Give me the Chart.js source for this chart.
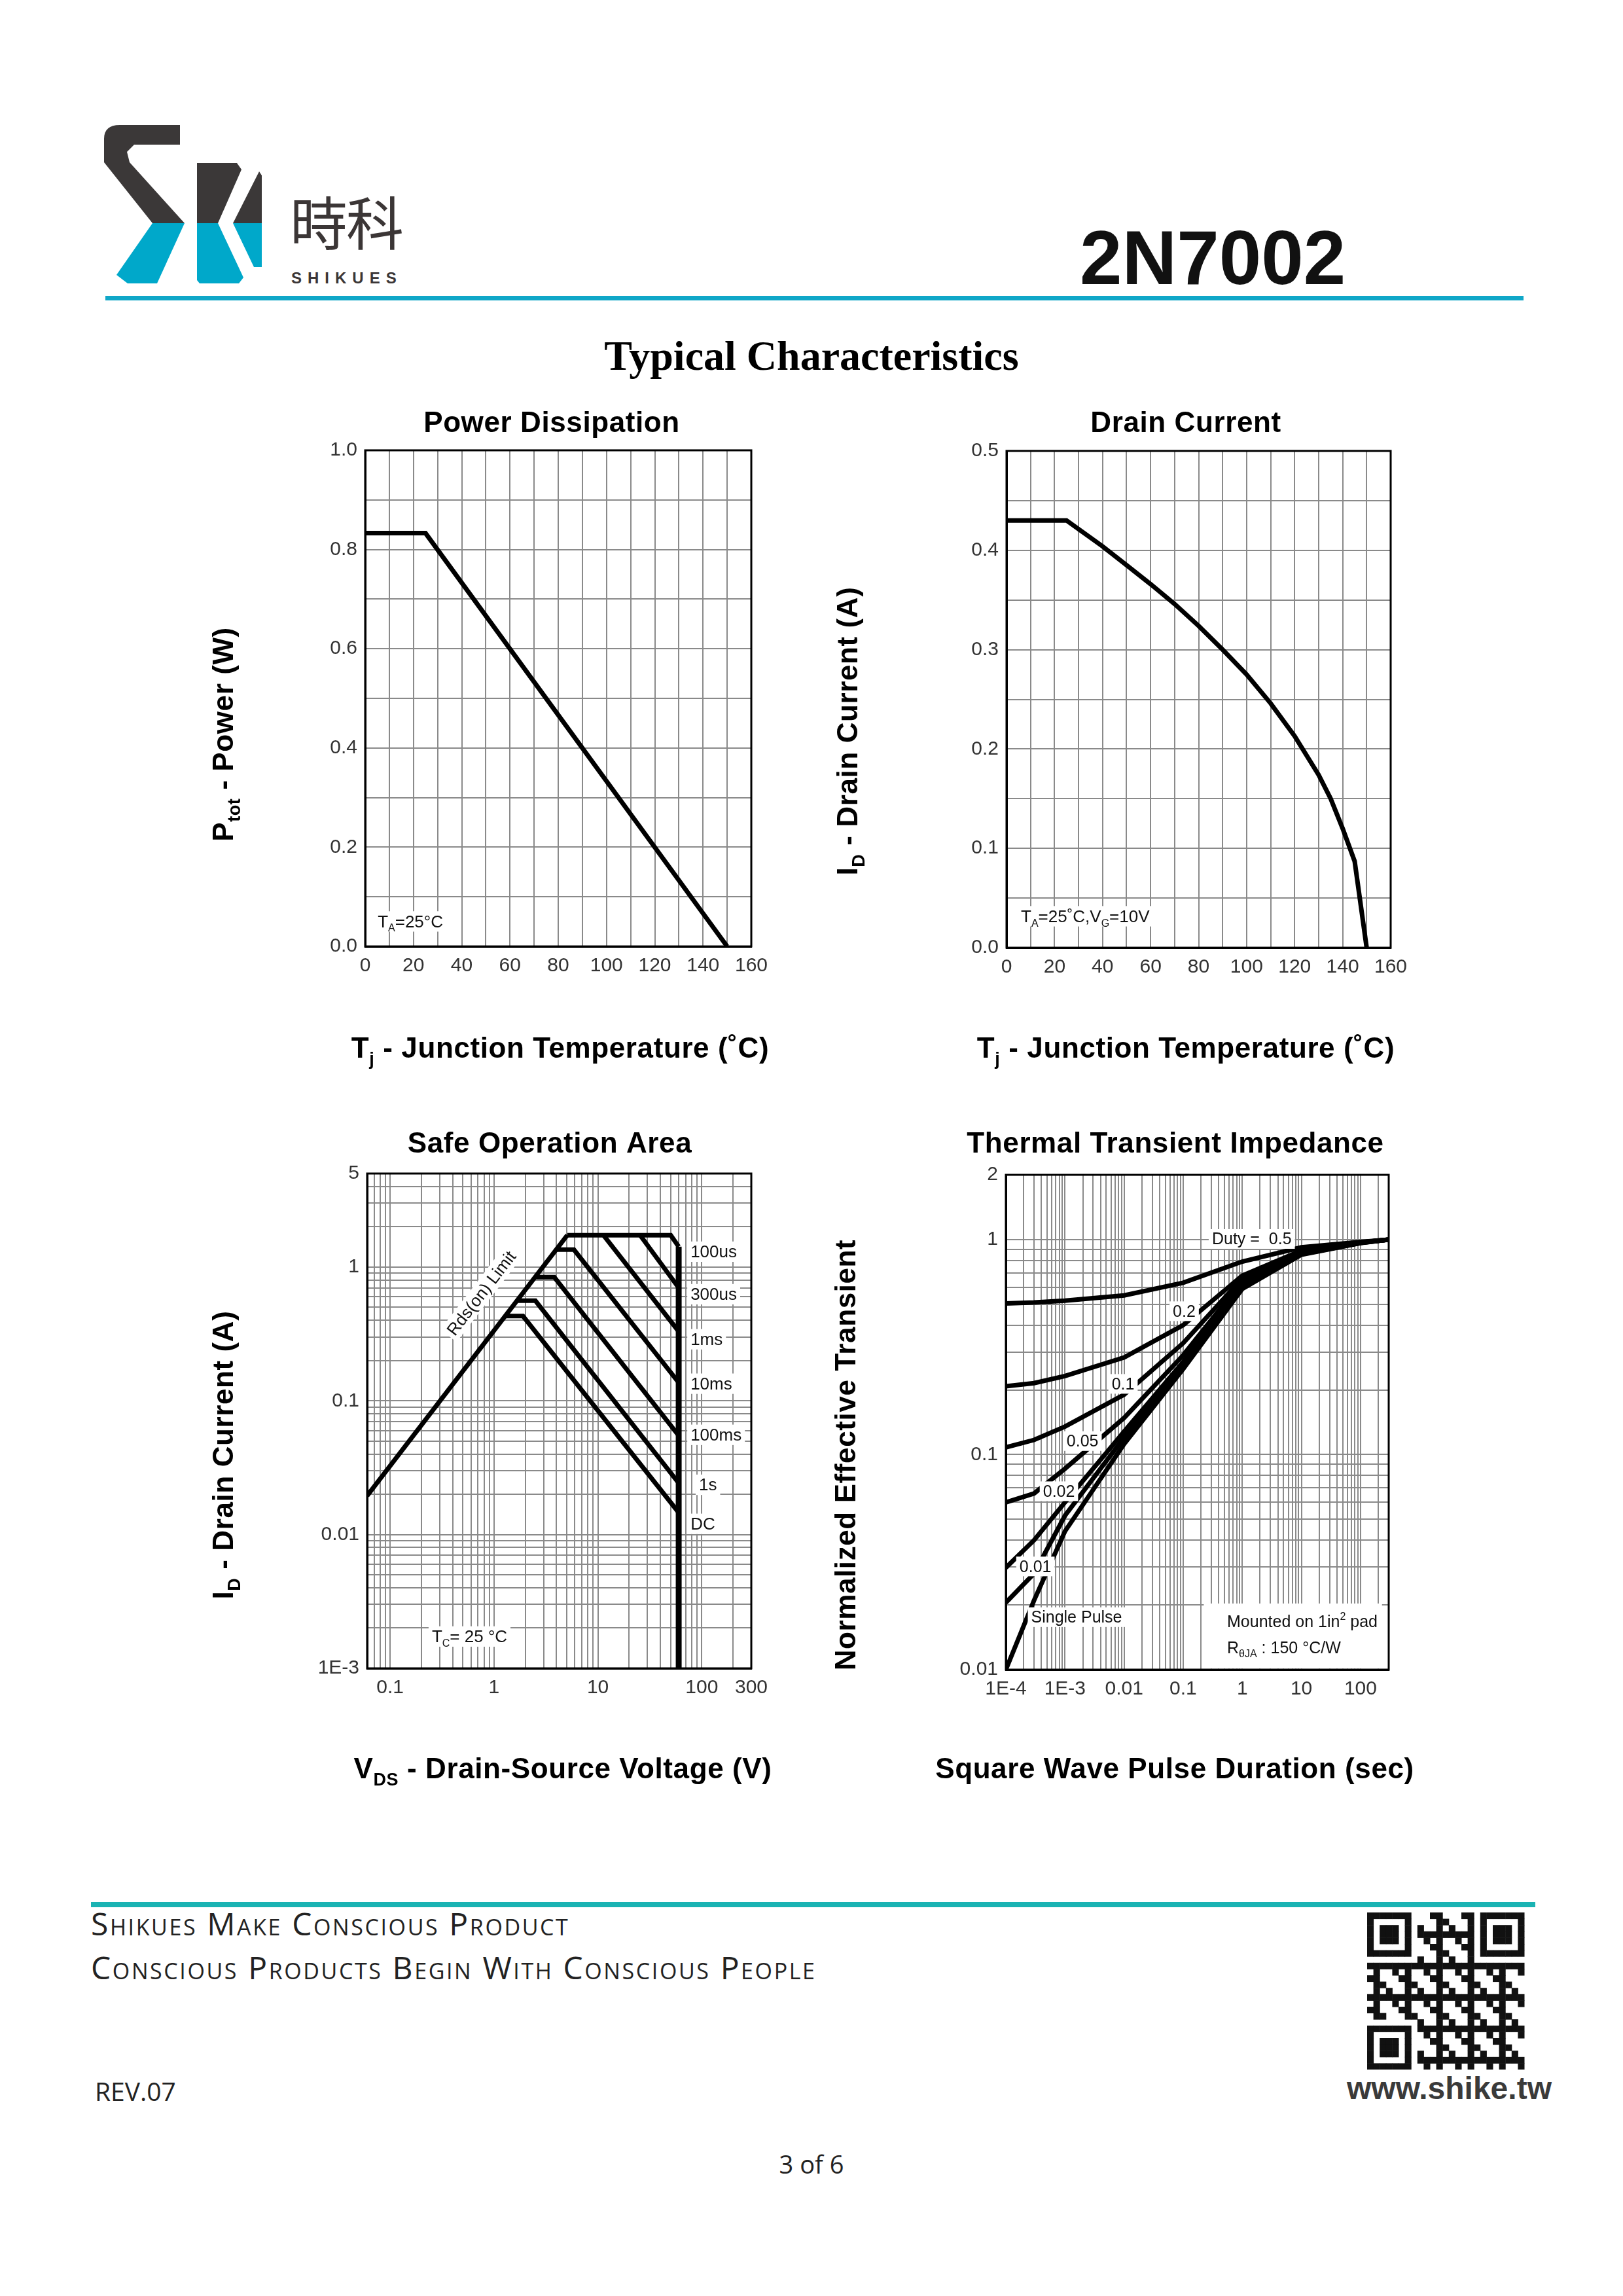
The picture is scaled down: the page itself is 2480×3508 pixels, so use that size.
<!DOCTYPE html>
<html>
<head>
<meta charset="utf-8">
<title>2N7002 Typical Characteristics</title>
<script src="https://cdn.jsdelivr.net/npm/chart.js@4.4.1/dist/chart.umd.min.js"></script>
<style>
  html, body { margin: 0; padding: 0; background: #fff; }
  #page { position: relative; width: 2480px; height: 3508px; overflow: hidden; background: #fff;
          font-family: "Liberation Sans", Arial, sans-serif; }
  .abs { position: absolute; white-space: nowrap; line-height: 1; }
  canvas { position: absolute; }
  .foot { font-family: "Open Sans", sans-serif; font-weight: 400; font-variant: small-caps; color: #222; letter-spacing: 2.6px; }
</style>
</head>
<body>
<div id="page">
  <!-- logo mark -->
  <svg class="abs" style="left:0;top:0" width="520" height="480">
    <path d="M183 191 L275 191 L275 221 L205 221 L194 232 L198 248 L282 341 L233 341 L159 248 L159 212 Q159 191 183 191 Z" fill="#3b3838"/>
    <path d="M233 341 L282 341 L240 433 L195 433 L178 420 Z" fill="#00a8ca"/>
    <path d="M301 249 L362 249 L369 259 L333 341 L301 341 Z" fill="#3b3838"/>
    <path d="M396 262 L400 268 L400 341 L356 341 Z" fill="#3b3838"/>
    <path d="M301 341 L333 341 L372 424 L365 433 L305 433 L301 428 Z" fill="#00a8ca"/>
    <path d="M356 341 L400 341 L400 408 L388 408 Z" fill="#00a8ca"/>
  </svg>
  <div class="abs" style="left:443px;top:272px;font:400 88px 'Noto Sans CJK TC';color:#3b3636;letter-spacing:-2px;">時科</div>
  <div class="abs" style="left:445px;top:411px;font:700 24px 'Liberation Sans';color:#3b3636;letter-spacing:9px;">SHIKUES</div>
  <div class="abs" style="left:1650px;top:327px;font:700 116px 'Liberation Sans';color:#111;">2N7002</div>
  <div class="abs" style="left:161px;top:452px;width:2167px;height:7px;background:#10a7c8;"></div>
  <div class="abs" style="left:0;top:507px;width:2480px;text-align:center;font:700 64px 'Liberation Serif';color:#000;">Typical Characteristics</div>

  <canvas id="pd" width="1000" height="1090" style="left:190px;top:590px"></canvas>
  <canvas id="id" width="1000" height="1090" style="left:1190px;top:590px"></canvas>
  <canvas id="soa" width="1000" height="1090" style="left:190px;top:1695px"></canvas>
  <canvas id="zth" width="1000" height="1090" style="left:1190px;top:1695px"></canvas>

  <!-- footer -->
  <div class="abs" style="left:139px;top:2906px;width:2207px;height:8px;background:#1ab3b3;"></div>
  <div class="abs foot" style="left:139px;top:2915px;font-size:48px;">Shikues Make Conscious Product</div>
  <div class="abs foot" style="left:139px;top:2982px;font-size:48px;">Conscious Products Begin With Conscious People</div>
  <div class="abs" style="left:145px;top:3168px;font:400 39px 'Open Sans';color:#222;">REV.07</div>
  <canvas id="qr" width="246" height="240" style="left:2089px;top:2922px"></canvas>
  <div class="abs" style="left:2058px;top:3163px;font:700 48px 'Liberation Sans';color:#3a3a3a;letter-spacing:0px;">www.shike.tw</div>
  <div class="abs" style="left:0;top:3280px;width:2480px;text-align:center;font:400 38px 'Open Sans';color:#222;">3 of 6</div>
</div>

<script>
// ---------- data ----------
// Power dissipation vs junction temperature
const pdTemp = [0, 25, 150];
const pdPower = [0.833, 0.833, 0];
const pdXTicks = [0, 20, 40, 60, 80, 100, 120, 140, 160];
const pdXLabels = ['0', '20', '40', '60', '80', '100', '120', '140', '160'];
const pdYTicks = [0, 0.2, 0.4, 0.6, 0.8, 1.0];
const pdYLabels = ['0.0', '0.2', '0.4', '0.6', '0.8', '1.0'];

// Drain current vs junction temperature
const idTemp = [0, 25, 40, 50, 60, 70, 80, 90, 100, 110, 120, 130, 135, 140, 145, 150];
const idCurrent = [0.43, 0.43, 0.404, 0.385, 0.366, 0.346, 0.324, 0.3, 0.275, 0.246, 0.213, 0.174, 0.15, 0.12, 0.087, 0];
const idYTicks = [0, 0.1, 0.2, 0.3, 0.4, 0.5];
const idYLabels = ['0.0', '0.1', '0.2', '0.3', '0.4', '0.5'];

// Safe operating area (V, A)
const soaRdsV = [0.06, 5.08];
const soaRdsI = [0.0195, 1.73];
const soa100usV = [5.08, 50.3, 60];
const soa100usI = [1.73, 1.73, 1.42];
const soa300usV = [25.5, 60];
const soa300usI = [1.73, 0.70];
const soa1msV = [11.3, 60];
const soa1msI = [1.73, 0.33];
const soa10msV = [4.0, 5.88, 60];
const soa10msI = [1.35, 1.35, 0.137];
const soa100msV = [2.55, 3.8, 60];
const soa100msI = [0.84, 0.84, 0.055];
const soa1sV = [1.7, 2.5, 60];
const soa1sI = [0.56, 0.56, 0.0243];
const soaDcV = [1.3, 1.9, 60];
const soaDcI = [0.43, 0.43, 0.0146];
const soaEdgeV = [60, 60];
const soaEdgeI = [1.42, 0.001];
const soaXTicks = [0.1, 1, 10, 100, 300];
const soaXLabels = ['0.1', '1', '10', '100', '300'];
const soaYTicks = [0.001, 0.01, 0.1, 1, 5];
const soaYLabels = ['1E-3', '0.01', '0.1', '1', '5'];
const soaLabelNames = ['100us', '300us', '1ms', '10ms', '100ms', '1s', 'DC'];
const soaLabelV = [78, 78, 78, 78, 78, 94, 78];
const soaLabelI = [1.31, 0.63, 0.29, 0.135, 0.056, 0.0237, 0.0121];

// Thermal transient impedance (s, normalized)
const zthTime = [1e-4, 3e-4, 1e-3, 0.01, 0.1, 1, 10, 100, 300];
const zthD05 = [0.505, 0.51, 0.52, 0.55, 0.63, 0.79, 0.92, 0.975, 1.0];
const zthD02 = [0.208, 0.215, 0.232, 0.283, 0.40, 0.68, 0.89, 0.97, 1.0];
const zthD01 = [0.108, 0.117, 0.135, 0.19, 0.33, 0.66, 0.88, 0.97, 1.0];
const zthD005 = [0.060, 0.066, 0.086, 0.148, 0.29, 0.64, 0.87, 0.968, 1.0];
const zthD002 = [0.0298, 0.040, 0.060, 0.128, 0.27, 0.62, 0.86, 0.966, 1.0];
const zthD001 = [0.0205, 0.028, 0.052, 0.12, 0.26, 0.61, 0.855, 0.965, 1.0];
const zthSingle = [0.01, 0.021, 0.044, 0.112, 0.25, 0.59, 0.85, 0.963, 1.0];
const zthXTicks = [1e-4, 1e-3, 0.01, 0.1, 1, 10, 100];
const zthXLabels = ['1E-4', '1E-3', '0.01', '0.1', '1', '10', '100'];
const zthYTicks = [0.01, 0.1, 1, 2];
const zthYLabels = ['0.01', '0.1', '1', '2'];
const zthLabelNames = ['0.2', '0.1', '0.05', '0.02', '0.01', 'Single Pulse'];
const zthLabelT = [0.104, 0.0096, 1.98e-3, 7.9e-4, 3.16e-4, 1.57e-3];
const zthLabelZ = [0.466, 0.214, 0.116, 0.0678, 0.0303, 0.0176];

// ---------- helpers ----------
const FAM = '"Liberation Sans", Arial, sans-serif';
const GRID = '#8a8a8a';
Chart.defaults.font.family = FAM;
Chart.defaults.color = '#333';

function linGrid(min, max, step) {
  const out = [];
  for (let i = 0; min + i * step <= max + step * 1e-6; i++) out.push(Math.round((min + i * step) * 1e6) / 1e6);
  return out;
}
function logGrid(min, max) {
  const out = [];
  for (let d = Math.floor(Math.log10(min)); d <= Math.ceil(Math.log10(max)); d++) {
    for (let m = 1; m <= 9; m++) {
      const v = m * Math.pow(10, d);
      if (v >= min * 0.999 && v <= max * 1.001) out.push(v);
    }
  }
  return out;
}
function labelFor(values, labels) {
  return (v) => {
    const i = values.findIndex(t => Math.abs(v - t) <= Math.abs(t) * 1e-6 + 1e-9);
    return i < 0 ? '' : labels[i];
  };
}
function axis(type, pos, min, max, grid, tickVals, tickLabels) {
  return {
    type, position: pos, min, max,
    afterBuildTicks: s => { s.ticks = grid.map(v => ({ value: v })); },
    afterFit: s => { if (pos === 'left') s.width = 80; else s.height = 50; },
    grid: { color: GRID, lineWidth: 2, drawTicks: false },
    border: { display: true, color: '#000', width: 3 },
    ticks: { autoSkip: false, maxRotation: 0, minRotation: 0, padding: 12, color: '#333',
             font: { size: 30 }, callback: labelFor(tickVals, tickLabels) }
  };
}
function series(xs, ys, width) {
  return { data: xs.map((x, i) => ({ x, y: ys[i] })), borderColor: '#000', backgroundColor: '#000',
           borderWidth: width || 7, pointRadius: 0, tension: 0, fill: false,
           borderJoinStyle: 'miter', borderCapStyle: 'butt' };
}

// text with sub/superscript parts: parts = [[text, kind]], kind '' | 'sub' | 'sup'
function drawRich(ctx, parts, x, y, o) {
  const size = o.size, weight = o.weight || 'normal';
  const fontFor = k => `${weight} ${k ? Math.round(size * 0.62) : size}px ${FAM}`;
  ctx.save();
  ctx.letterSpacing = (o.spacing || 0) + 'px';
  let w = 0;
  const ws = parts.map(([t, k]) => { ctx.font = fontFor(k); const m = ctx.measureText(t).width; w += m; return m; });
  ctx.translate(x, y);
  ctx.rotate(o.rot || 0);
  let cx = o.align === 'center' ? -w / 2 : 0;
  if (o.bg) { ctx.fillStyle = '#fff'; ctx.fillRect(cx - 5, -size * 0.58, w + 10, size * 1.2); }
  ctx.fillStyle = o.color || '#111';
  ctx.textBaseline = 'alphabetic';
  const base = size * 0.36;
  parts.forEach(([t, k], i) => {
    ctx.font = fontFor(k);
    const dy = k === 'sub' ? size * 0.26 : (k === 'sup' ? -size * 0.42 : 0);
    ctx.fillText(t, cx, base + dy);
    cx += ws[i];
  });
  ctx.restore();
}

const decor = {};
const decorPlugin = {
  id: 'decor',
  afterDatasetsDraw(chart) {
    const d = decor[chart.canvas.id];
    if (!d) return;
    const ctx = chart.ctx, sx = chart.scales.x, sy = chart.scales.y;
    ctx.save();
    (d.boxes || []).forEach(b => {
      const x0 = sx.getPixelForValue(b.x0), x1 = sx.getPixelForValue(b.x1);
      const y0 = sy.getPixelForValue(b.y0), y1 = sy.getPixelForValue(b.y1);
      ctx.fillStyle = '#fff';
      ctx.fillRect(Math.min(x0, x1), Math.min(y0, y1), Math.abs(x1 - x0), Math.abs(y1 - y0));
    });
    ctx.restore();
    (d.notes || []).forEach(n => {
      drawRich(ctx, n.parts, sx.getPixelForValue(n.x), sy.getPixelForValue(n.y),
        { size: n.size || 26, align: n.align || 'left', bg: n.bg !== false, rot: n.rot || 0 });
    });
  },
  afterDraw(chart) {
    const d = decor[chart.canvas.id];
    if (!d) return;
    const ctx = chart.ctx, a = chart.chartArea;
    ctx.save();
    ctx.strokeStyle = '#000';
    ctx.lineWidth = 3;
    ctx.strokeRect(a.left, a.top, a.right - a.left, a.bottom - a.top);
    ctx.restore();
    d.titles.forEach(t => {
      drawRich(ctx, t.parts, t.x - d.ox, t.y - d.oy,
        { size: 44, weight: 'bold', align: 'center', rot: t.rot || 0, spacing: 0.6, color: '#000' });
    });
  }
};

// canvas box + target plot rectangle (page px) -> layout padding
function pad(ox, oy, w, h, left, top, right, bottom) {
  return { left: left - ox - 80, top: top - oy, right: ox + w - right, bottom: oy + h - bottom - 50 };
}
function makeChart(id, ox, oy, plot, datasets, xAxis, yAxis) {
  decor[id].ox = ox; decor[id].oy = oy;
  return new Chart(document.getElementById(id), {
    type: 'line',
    data: { datasets },
    options: {
      responsive: false, animation: false, devicePixelRatio: 1,
      layout: { padding: pad(ox, oy, 1000, 1090, plot[0], plot[1], plot[2], plot[3]) },
      plugins: { legend: { display: false }, tooltip: { enabled: false }, title: { display: false } },
      scales: { x: xAxis, y: yAxis }
    },
    plugins: [decorPlugin]
  });
}

// ---------- Power Dissipation ----------
decor.pd = {
  titles: [
    { parts: [['Power Dissipation', '']], x: 843, y: 644 },
    { parts: [['P', ''], ['tot', 'sub'], [' - Power (W)', '']], x: 340, y: 1122, rot: -Math.PI / 2 },
    { parts: [['T', ''], ['j', 'sub'], [' - Junction Temperature (˚C)', '']], x: 856, y: 1600 }
  ],
  notes: [{ x: 5.2, y: 0.051, parts: [['T', ''], ['A', 'sub'], ['=25°C', '']] }]
};
makeChart('pd', 190, 590, [558, 688, 1148, 1446],
  [series(pdTemp, pdPower)],
  axis('linear', 'bottom', 0, 160, linGrid(0, 160, 10), pdXTicks, pdXLabels),
  axis('linear', 'left', 0, 1, linGrid(0, 1, 0.1), pdYTicks, pdYLabels));

// ---------- Drain Current ----------
decor.id = {
  titles: [
    { parts: [['Drain Current', '']], x: 1812, y: 644 },
    { parts: [['I', ''], ['D', 'sub'], [' - Drain Current (A)', '']], x: 1294, y: 1117, rot: -Math.PI / 2 },
    { parts: [['T', ''], ['j', 'sub'], [' - Junction Temperature (˚C)', '']], x: 1812, y: 1600 }
  ],
  notes: [{ x: 6, y: 0.032, parts: [['T', ''], ['A', 'sub'], ['=25˚C,V', ''], ['G', 'sub'], ['=10V', '']] }]
};
makeChart('id', 1190, 590, [1538, 689, 2125, 1448],
  [series(idTemp, idCurrent)],
  axis('linear', 'bottom', 0, 160, linGrid(0, 160, 10), pdXTicks, pdXLabels),
  axis('linear', 'left', 0, 0.5, linGrid(0, 0.5, 0.05), idYTicks, idYLabels));

// ---------- Safe Operation Area ----------
decor.soa = {
  titles: [
    { parts: [['Safe Operation Area', '']], x: 840, y: 1745 },
    { parts: [['I', ''], ['D', 'sub'], [' - Drain Current (A)', '']], x: 340, y: 2223, rot: -Math.PI / 2 },
    { parts: [['V', ''], ['DS', 'sub'], [' - Drain-Source Voltage (V)', '']], x: 860, y: 2701 }
  ],
  notes: soaLabelNames.map((t, i) => ({ x: soaLabelV[i], y: soaLabelI[i], parts: [[t, '']] }))
    .concat([
      { x: 0.75, y: 0.64, parts: [['Rds(on) Limit', '']], align: 'center', rot: -0.915 },
      { x: 0.252, y: 0.00174, parts: [['T', ''], ['C', 'sub'], ['= 25 °C', '']] }
    ])
};
makeChart('soa', 190, 1695, [561, 1793, 1148, 2549],
  [series(soaRdsV, soaRdsI), series(soa100usV, soa100usI), series(soa300usV, soa300usI),
   series(soa1msV, soa1msI), series(soa10msV, soa10msI), series(soa100msV, soa100msI),
   series(soa1sV, soa1sI), series(soaDcV, soaDcI), series(soaEdgeV, soaEdgeI, 9)],
  axis('logarithmic', 'bottom', 0.06, 300, logGrid(0.06, 300), soaXTicks, soaXLabels),
  axis('logarithmic', 'left', 0.001, 5, logGrid(0.001, 5), soaYTicks, soaYLabels));

// ---------- Thermal Transient Impedance ----------
decor.zth = {
  titles: [
    { parts: [['Thermal Transient Impedance', '']], x: 1796, y: 1745 },
    { parts: [['Normalized Effective Transient', '']], x: 1291, y: 2223, rot: -Math.PI / 2 },
    { parts: [['Square Wave Pulse Duration (sec)', '']], x: 1795, y: 2701 }
  ],
  boxes: [{ x0: 0.223, y0: 0.0203, x1: 231, y1: 0.0101 }],
  notes: zthLabelNames.map((t, i) => ({ x: zthLabelT[i], y: zthLabelZ[i], parts: [[t, '']], align: 'center', size: 25 }))
    .concat([
      { x: 0.307, y: 1.01, parts: [['Duty =  0.5', '']], size: 25 },
      { x: 0.553, y: 0.0168, parts: [['Mounted on 1in', ''], ['2', 'sup'], [' pad', '']], size: 25, bg: false },
      { x: 0.553, y: 0.0127, parts: [['R', ''], ['θJA', 'sub'], [' : 150 °C/W', '']], size: 25, bg: false }
    ])
};
makeChart('zth', 1190, 1695, [1537, 1795, 2122, 2551],
  [series(zthTime, zthD05), series(zthTime, zthD02), series(zthTime, zthD01), series(zthTime, zthD005),
   series(zthTime, zthD002), series(zthTime, zthD001), series(zthTime, zthSingle)],
  axis('logarithmic', 'bottom', 1e-4, 300, logGrid(1e-4, 300), zthXTicks, zthXLabels),
  axis('logarithmic', 'left', 0.01, 2, logGrid(0.01, 2), zthYTicks, zthYLabels));

// ---------- QR-style mark in the footer ----------
(function () {
  const c = document.getElementById('qr').getContext('2d');
  const n = 25, s = 240 / n;
  const finder = (r, q) => {
    for (let i = 0; i < 7; i++) for (let j = 0; j < 7; j++) {
      const ring = i === 0 || j === 0 || i === 6 || j === 6;
      const core = i >= 2 && i <= 4 && j >= 2 && j <= 4;
      if (ring || core) c.fillRect((q + j) * s, (r + i) * s, s + 0.5, s + 0.5);
    }
  };
  c.fillStyle = '#111';
  finder(0, 0); finder(0, n - 7); finder(n - 7, 0);
  for (let r = 0; r < n; r++) for (let q = 0; q < n; q++) {
    const inFinder = (r < 8 && q < 8) || (r < 8 && q >= n - 8) || (r >= n - 8 && q < 8);
    if (inFinder) continue;
    if (((r * 7 + q * 11 + r * q * 3) % 5) < 2) c.fillRect(q * s, r * s, s + 0.5, s + 0.5);
  }
})();
</script>
</body>
</html>
